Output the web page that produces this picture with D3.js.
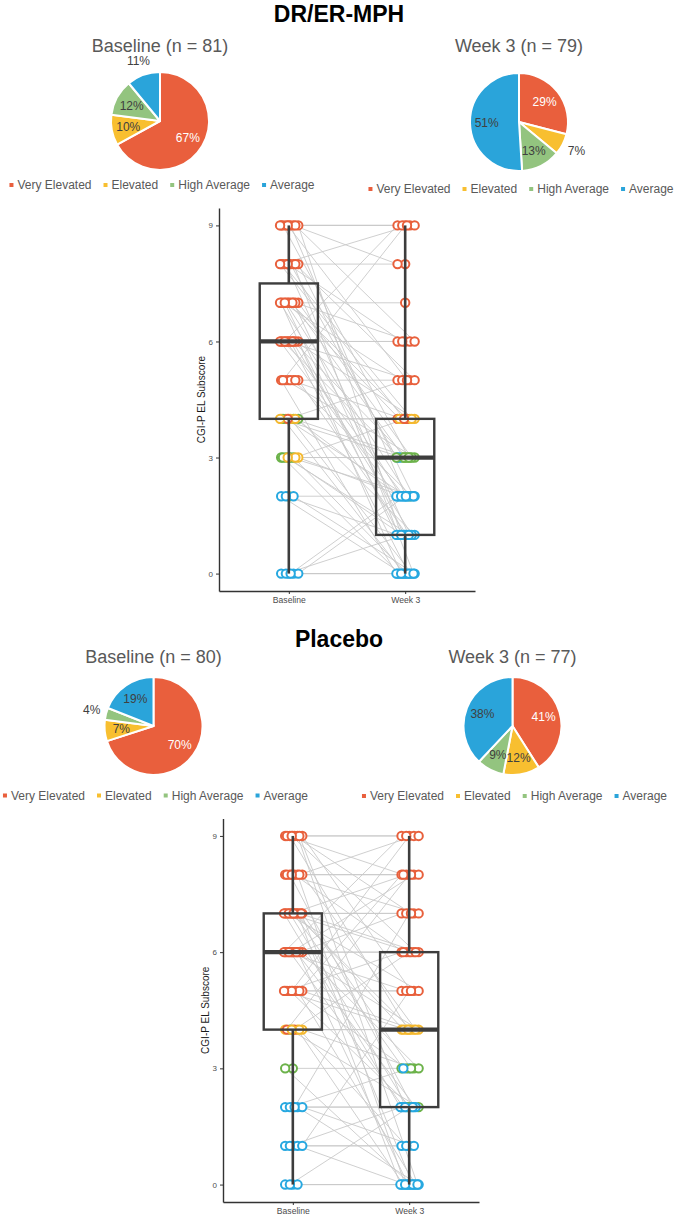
<!DOCTYPE html>
<html><head><meta charset="utf-8">
<script src="https://cdn.jsdelivr.net/npm/d3@7"></script>
<style>body{margin:0;background:#fff}svg{display:block}</style>
</head><body>
<svg id="chart" width="679" height="1218"></svg>
<script>
// ---------------- DATA ----------------
const categories = ["Very Elevated", "Elevated", "High Average", "Average"];
const catCodes = ["V", "E", "H", "A"];
const groupTitles = ["DR/ER-MPH", "Placebo"];
const pieTitles = ["Baseline (n = 81)", "Week 3 (n = 79)", "Baseline (n = 80)", "Week 3 (n = 77)"];
const drBaselinePct = [67, 10, 12, 11];
const drWeek3Pct = [29, 7, 13, 51];
const pboBaselinePct = [70, 7, 4, 19];
const pboWeek3Pct = [41, 12, 9, 38];
const timepoints = ["Baseline", "Week 3"];
const yTicks = [0, 3, 6, 9];
const yTitle = "CGI-P EL Subscore";
// box stats: [lower whisker, Q1, median, Q3, upper whisker]
const drBaselineBox = [0, 4, 6, 7.5, 9];
const drWeek3Box = [0, 1, 3, 4, 9];
const pboBaselineBox = [0, 4, 6, 7, 9];
const pboWeek3Box = [0, 2, 4, 6, 9];
// subjects: [baseline score, baseline category, week 3 score, week 3 category]
const drSubjects = [
 [0,"A",0,"A"],[0,"A",0,"A"],[0,"A",0,"A"],[0,"A",1,"A"],[0,"A",2,"A"],[0,"A",2,"A"],
 [2,"H",2,"H"],[2,"A",0,"A"],[2,"A",0,"A"],[2,"A",1,"A"],
 [3,"H",3,"H"],[3,"H",3,"A"],[3,"H",0,"A"],[3,"H",1,"A"],[3,"E",2,"A"],[3,"H",2,"A"],[3,"H",0,"A"],[3,"E",4,"E"],[3,"E",1,"A"],
 [4,"V",4,"V"],[4,"E",4,"E"],[4,"H",3,"H"],[4,"E",2,"A"],[4,"H",1,"A"],[4,"E",0,"A"],[4,"H",0,"A"],[4,"E",2,"A"],[4,"V",5,"V"],[4,"E",3,"H"],
 [5,"V",5,"V"],[5,"V",0,"A"],[5,"V",2,"A"],[5,"V",3,"H"],[5,"V",1,"A"],[5,"V",4,"E"],[5,"V",9,"V"],[5,"V",null,null],
 [6,"V",6,"V"],[6,"V",6,"V"],[6,"V",3,"H"],[6,"V",2,"A"],[6,"V",1,"A"],[6,"V",0,"A"],[6,"V",3,"A"],[6,"V",4,"E"],[6,"V",5,"V"],[6,"V",2,"A"],[6,"V",1,"A"],[6,"V",9,"V"],
 [7,"V",7,"V"],[7,"V",0,"A"],[7,"V",1,"A"],[7,"V",2,"A"],[7,"V",3,"H"],[7,"V",4,"V"],[7,"V",5,"V"],[7,"V",6,"V"],[7,"V",4,"E"],[7,"V",2,"A"],[7,"V",3,"H"],[7,"V",1,"A"],
 [8,"V",8,"V"],[8,"V",9,"V"],[8,"V",0,"A"],[8,"V",1,"A"],[8,"V",2,"A"],[8,"V",3,"H"],[8,"V",4,"E"],[8,"V",5,"V"],[8,"V",6,"V"],[8,"V",4,"V"],
 [9,"V",9,"V"],[9,"V",9,"V"],[9,"V",8,"V"],[9,"V",9,"V"],[9,"V",1,"A"],[9,"V",2,"A"],[9,"V",3,"H"],[9,"V",6,"V"],[9,"V",5,"V"],[9,"V",null,null]
];
const pboSubjects = [
 [0,"A",0,"A"],[0,"A",0,"A"],[0,"A",0,"A"],[0,"A",2,"A"],
 [1,"A",1,"A"],[1,"A",1,"A"],[1,"A",0,"A"],[1,"A",2,"A"],[1,"A",5,"V"],
 [2,"A",2,"A"],[2,"A",2,"A"],[2,"A",0,"A"],[2,"A",3,"A"],[2,"A",1,"A"],[2,"A",7,"V"],
 [3,"H",3,"H"],[3,"H",0,"A"],
 [4,"E",4,"E"],[4,"E",4,"E"],[4,"E",0,"A"],[4,"H",2,"H"],[4,"E",3,"H"],[4,"V",6,"V"],[4,"V",8,"V"],[4,"E",1,"A"],[4,"E",null,null],
 [5,"V",5,"V"],[5,"V",5,"V"],[5,"V",0,"A"],[5,"V",2,"A"],[5,"V",4,"E"],[5,"V",3,"H"],[5,"V",6,"V"],[5,"V",8,"V"],[5,"V",9,"V"],[5,"V",4,"E"],
 [6,"V",6,"V"],[6,"V",6,"V"],[6,"V",0,"A"],[6,"V",2,"A"],[6,"V",3,"H"],[6,"V",4,"E"],[6,"V",5,"V"],[6,"V",7,"V"],[6,"V",8,"V"],[6,"V",9,"V"],[6,"V",2,"A"],[6,"V",null,null],
 [7,"V",7,"V"],[7,"V",7,"V"],[7,"V",0,"A"],[7,"V",2,"H"],[7,"V",3,"H"],[7,"V",4,"E"],[7,"V",5,"V"],[7,"V",6,"V"],[7,"V",8,"V"],[7,"V",2,"A"],[7,"V",4,"E"],[7,"V",6,"V"],[7,"V",0,"A"],[7,"V",3,"A"],
 [8,"V",8,"V"],[8,"V",8,"V"],[8,"V",0,"A"],[8,"V",2,"A"],[8,"V",4,"E"],[8,"V",6,"V"],[8,"V",7,"V"],[8,"V",9,"V"],[8,"V",null,null],
 [9,"V",9,"V"],[9,"V",9,"V"],[9,"V",0,"A"],[9,"V",4,"E"],[9,"V",5,"V"],[9,"V",7,"V"],[9,"V",8,"V"],[9,"V",2,"A"],[9,"V",6,"V"]
];

// ---------------- STYLE / LAYOUT ----------------
const FONT = "'Liberation Sans', Arial, Helvetica, sans-serif";
const pieColors = ["#E95F3D", "#F8BF30", "#93C47F", "#2AA4DA"];
const pointColors = { V: "#E8603C", E: "#F4B82E", H: "#6CB24A", A: "#27A8E0" };
const outsideLabels = [[3], [1], [2], []]; // which slices get labels outside the pie
const R = 49;

const svg = d3.select("#chart");

// Group titles
[[339, 22], [339, 647]].forEach((p, i) => {
  svg.append("text").attr("x", p[0]).attr("y", p[1]).attr("text-anchor", "middle")
    .attr("font-family", FONT).attr("font-weight", "bold").attr("font-size", 23)
    .attr("fill", "#000").text(groupTitles[i]);
});

function drawPie(idx, values, cx, cy, titleY, legendY) {
  svg.append("text").attr("x", cx).attr("y", titleY).attr("text-anchor", "middle")
    .attr("font-family", FONT).attr("font-size", 18).attr("fill", "#595959").text(pieTitles[idx]);
  const g = svg.append("g").attr("transform", `translate(${cx},${cy})`);
  const arcs = d3.pie().sort(null).value(d => d)(values);
  const arc = d3.arc().innerRadius(0).outerRadius(R);
  g.selectAll("path").data(arcs).join("path")
    .attr("d", arc).attr("fill", (d, i) => pieColors[i])
    .attr("stroke", "#fff").attr("stroke-width", 2).attr("stroke-linejoin", "round");
  const labs = g.selectAll("text.lab").data(arcs).join("text").attr("class", "lab")
    .attr("font-family", FONT).attr("font-size", 12).attr("text-anchor", "middle")
    .attr("dy", "0.35em")
    .attr("fill", (d, i) => (i === 0 && !outsideLabels[idx].includes(i)) ? "#fff" : "#404040")
    .text(d => d.data + "%");
  labs.each(function (d, i) {
    const a = (d.startAngle + d.endAngle) / 2;
    const s = Math.sin(a), c = -Math.cos(a);
    let rr;
    if (outsideLabels[idx].includes(i)) {
      const w = this.getComputedTextLength();
      rr = R + 5 + Math.abs(s) * w / 2 + Math.abs(c) * 6;
    } else rr = R * 0.66;
    d3.select(this).attr("x", s * rr).attr("y", c * rr);
  });
  // legend
  const lg = svg.append("g");
  let x = 0;
  categories.forEach((cat, i) => {
    lg.append("rect").attr("x", x).attr("y", -2).attr("width", 4).attr("height", 4).attr("fill", pieColors[i]);
    const t = lg.append("text").attr("x", x + 8).attr("y", 0).attr("dy", "0.36em")
      .attr("font-family", FONT).attr("font-size", 12).attr("fill", "#595959").text(cat);
    x += 8 + t.node().getComputedTextLength() + 12;
  });
  const total = x - 12;
  lg.attr("transform", `translate(${cx + 2 - total / 2},${legendY})`);
}

drawPie(0, drBaselinePct, 160, 121, 52, 185);
drawPie(1, drWeek3Pct, 519, 122, 52, 189);
drawPie(2, pboBaselinePct, 153.5, 726, 662.5, 795.5);
drawPie(3, pboWeek3Pct, 512.5, 726, 662.5, 796);

function drawBox(subjects, boxes, x0, x1, yTop, yBot, titleX) {
  const g = svg.append("g");
  const x = d3.scalePoint().domain(timepoints).range([x0, x1]).padding(0.6);
  const y = d3.scaleLinear().domain([-0.45, 9.45]).range([yBot, yTop]);
  const J = 10;
  // jitter per (time, level)
  const counters = [{}, {}];
  const jit = (t, v) => {
    const k = counters[t][v] = (counters[t][v] === undefined ? 0 : counters[t][v] + 1);
    const f = (k * 0.6180339 + 0.5) % 1;
    return (f - 0.5) * 2 * J;
  };
  const pts = subjects.map(s => {
    const o = { b: s[0], bc: s[1], w: s[2], wc: s[3] };
    o.bx = x(timepoints[0]) + jit(0, s[0]);
    if (s[2] !== null) o.wx = x(timepoints[1]) + jit(1, s[2]);
    return o;
  });
  // axes
  const ya = g.append("g").attr("transform", `translate(${x0},0)`)
    .call(d3.axisLeft(y).tickValues(yTicks).tickSize(3).tickSizeOuter(0).tickPadding(3));
  const xa = g.append("g").attr("transform", `translate(0,${yBot})`)
    .call(d3.axisBottom(x).tickSize(3).tickSizeOuter(0).tickPadding(3));
  [ya, xa].forEach(a => {
    a.select(".domain").attr("stroke", "#333").attr("stroke-width", 1.4);
    a.selectAll(".tick line").attr("stroke", "#333").attr("stroke-width", 1);
    a.selectAll(".tick text").attr("fill", "#4d4d4d").attr("font-family", FONT);
  });
  ya.selectAll(".tick text").attr("font-size", 8);
  xa.selectAll(".tick text").attr("font-size", 8.6);
  g.append("text").attr("transform", `translate(${titleX},${(yTop + yBot) / 2}) rotate(-90)`)
    .attr("text-anchor", "middle").attr("font-family", FONT).attr("font-size", 10)
    .attr("fill", "#1a1a1a").text(yTitle);
  // paired lines
  g.append("g").selectAll("line").data(pts.filter(p => p.w !== null)).join("line")
    .attr("x1", p => p.bx).attr("y1", p => y(p.b)).attr("x2", p => p.wx).attr("y2", p => y(p.w))
    .attr("stroke", "#c9c9c9").attr("stroke-width", 0.9);
  // points
  const pg = g.append("g");
  pg.selectAll("circle.b").data(pts).join("circle").attr("class", "b")
    .attr("cx", p => p.bx).attr("cy", p => y(p.b)).attr("r", 4.2)
    .attr("fill", "#fff").attr("stroke", p => pointColors[p.bc]).attr("stroke-width", 2);
  pg.selectAll("circle.w").data(pts.filter(p => p.w !== null)).join("circle").attr("class", "w")
    .attr("cx", p => p.wx).attr("cy", p => y(p.w)).attr("r", 4.2)
    .attr("fill", "#fff").attr("stroke", p => pointColors[p.wc]).attr("stroke-width", 2);
  // boxes
  const hw = x.step() * 0.25;
  boxes.forEach((b, i) => {
    const cx = x(timepoints[i]);
    const bg = g.append("g").attr("stroke", "#3d3d3d").attr("fill", "none");
    bg.append("line").attr("x1", cx).attr("x2", cx).attr("y1", y(b[0])).attr("y2", y(b[1])).attr("stroke-width", 2.6);
    bg.append("line").attr("x1", cx).attr("x2", cx).attr("y1", y(b[3])).attr("y2", y(b[4])).attr("stroke-width", 2.6);
    bg.append("rect").attr("x", cx - hw).attr("width", 2 * hw)
      .attr("y", y(b[3])).attr("height", y(b[1]) - y(b[3])).attr("stroke-width", 2.4);
    bg.append("line").attr("x1", cx - hw).attr("x2", cx + hw).attr("y1", y(b[2])).attr("y2", y(b[2])).attr("stroke-width", 4.2);
  });
}

drawBox(drSubjects, [drBaselineBox, drWeek3Box], 219, 475, 208, 591, 205);
drawBox(pboSubjects, [pboBaselineBox, pboWeek3Box], 223, 479, 818.5, 1202, 208.5);
</script>
</body></html>
